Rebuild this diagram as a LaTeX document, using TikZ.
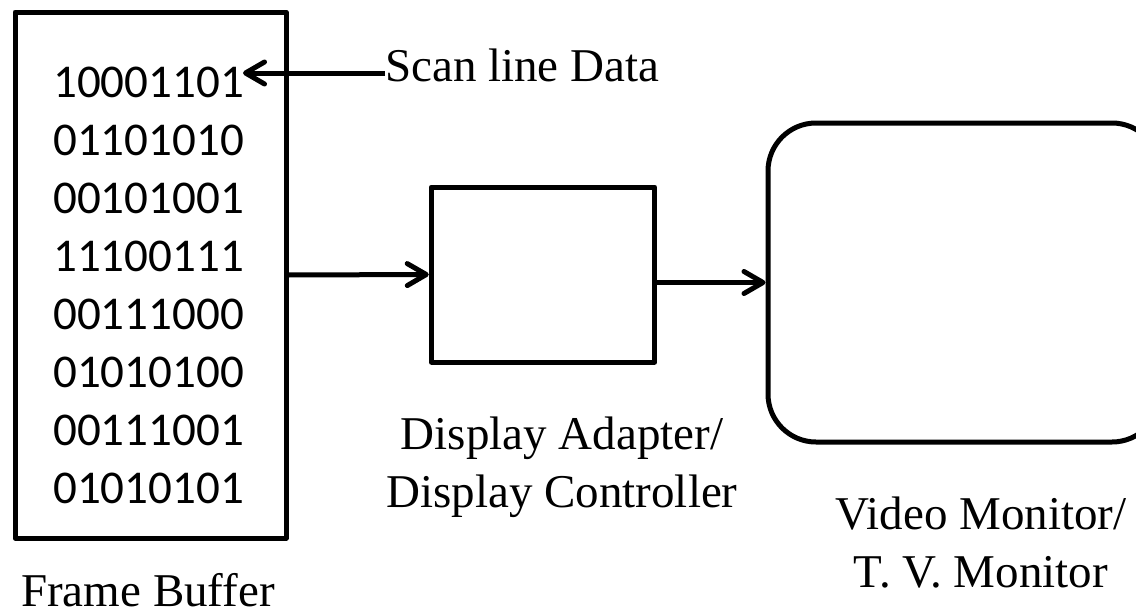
\documentclass[tikz,border=0pt]{standalone}
\usepackage{fontspec}
\setmainfont{Liberation Serif}
\newfontfamily\bitsfont{Carlito}
\usetikzlibrary{positioning,arrows.meta}

\begin{document}
\begin{tikzpicture}[
  x=1pt, y=-1pt,
  blk/.style={draw, line width=5pt, inner sep=0pt, line join=round},
  lbl/.style={anchor=base, inner sep=0pt, align=center, font=\fontsize{47}{58}\selectfont},
  bits/.style={anchor=base west, inner sep=0pt, align=left, font=\bitsfont\fontsize{47}{58}\selectfont},
  arr/.style={-{Straight Barb[length=19pt,width=22pt,round]}, line width=5pt}
]
\useasboundingbox (0,0) rectangle (1136,613);

\node[blk, minimum width=271pt, minimum height=526pt] (fb) at (150.5,275) {};
% base of a multi-line node is its last line
\node[bits] (data) at (53,503) {10001101\\01101010\\00101001\\11100111\\00111000\\01010100\\00111001\\01010101};
\node[blk, minimum width=223.5pt, minimum height=175pt] (da) at (543,274.5) {};
\node[blk, rounded corners=48pt, minimum width=392pt, minimum height=319pt] (mon) at (964,282.5) {};

% labels
\node[lbl, anchor=base west] (scan) at (385,81) {Scan line Data};
\node[lbl] (fblbl) at (148,606) {Frame Buffer};
\node[lbl] (dalbl) at (562,507) {Display Adapter/\\Display Controller};
\node[lbl] (monlbl) at (981,587) {Video Monitor/\\T. V. Monitor};

\coordinate (row1) at (243,73);

\draw[arr] (scan.west |- row1) -- (row1);
\draw[arr] (fb.east) -- (da.west);
\draw[arr] (da.east |- mon.west) -- (mon.west);
\end{tikzpicture}
\end{document}
